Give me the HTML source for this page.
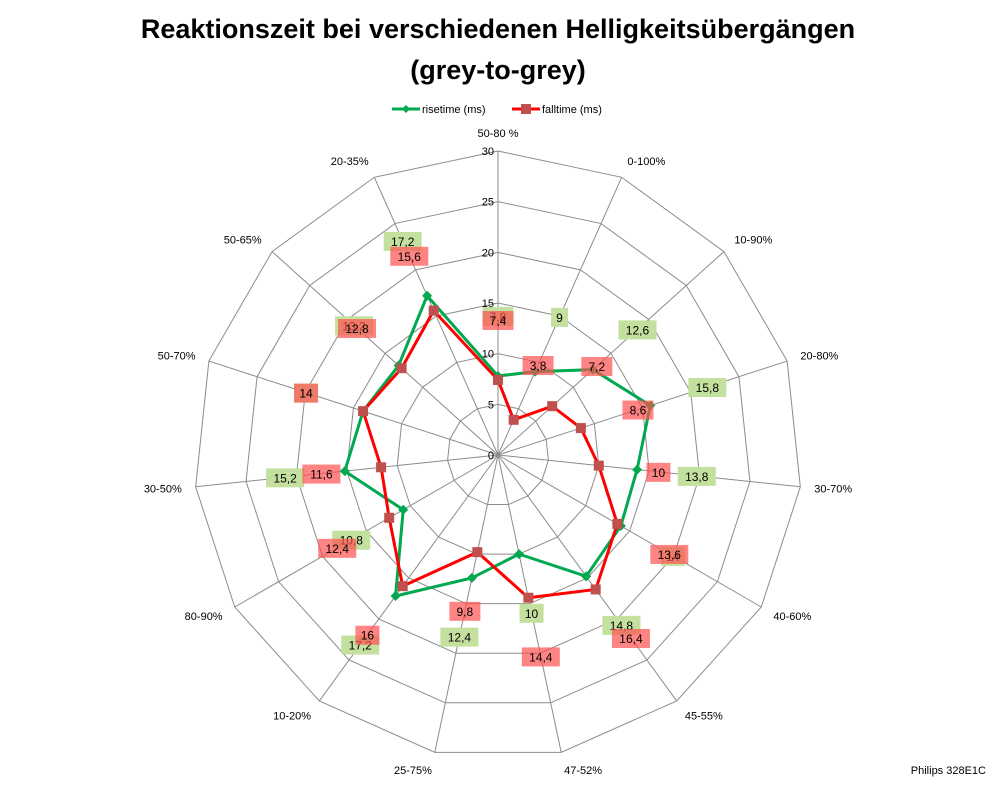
<!DOCTYPE html>
<html><head><meta charset="utf-8"><style>
body{margin:0;background:#fff;}
svg{display:block;font-family:"Liberation Sans",Calibri,sans-serif;}
</style></head><body>
<svg id="chart" width="998" height="786" viewBox="0 0 998 786" xmlns="http://www.w3.org/2000/svg">
<text x="498" y="38" text-anchor="middle" font-size="27" font-weight="bold">Reaktionszeit bei verschiedenen Helligkeitsübergängen</text>
<text x="498" y="79" text-anchor="middle" font-size="27" font-weight="bold">(grey-to-grey)</text>
<g>
<g>
<line x1="392" y1="109" x2="420" y2="109" stroke="#00a84f" stroke-width="3"/>
<path d="M406 105 L410 109 L406 113 L402 109Z" fill="#00a84f"/>
<text x="422" y="113" font-size="11">risetime (ms)</text></g>
<g>
<line x1="512" y1="109" x2="540" y2="109" stroke="#ff0000" stroke-width="3"/>
<rect x="521" y="104" width="10" height="10" fill="#c0504d"/>
<text x="542" y="113" font-size="11">falltime (ms)</text></g>
</g>
<g id="grid"></g>
<g id="series"></g>
<g id="labels"></g>
<text x="986" y="774" text-anchor="end" font-size="11">Philips 328E1C</text>
</svg>
<script>
const categories=["50-80 %","0-100%","10-90%","20-80%","30-70%","40-60%","45-55%","47-52%","25-75%","10-20%","80-90%","30-50%","50-70%","50-65%","20-35%"];
const risetime=[7.8,9,12.6,15.8,13.8,14,14.8,10,12.4,17.2,10.8,15.2,14,13.2,17.2];
const falltime=[7.4,3.8,7.2,8.6,10,13.6,16.4,14.4,9.8,16,12.4,11.6,14,12.8,15.6];
const ticks=[0,5,10,15,20,25,30];
const NS="http://www.w3.org/2000/svg";
const cx=498,cy=455,R=304,MAX=30;
function rad(v){return v/MAX*R;}
function ang(i){return i*2*Math.PI/categories.length;}
function pt(i,v){const a=ang(i),r=rad(v);return [cx+r*Math.sin(a),cy-r*Math.cos(a)];}
function mk(tag,attrs,parent){const e=document.createElementNS(NS,tag);for(const k in attrs)e.setAttribute(k,attrs[k]);parent.appendChild(e);return e;}
const grid=document.getElementById('grid');
ticks.forEach(t=>{if(t===0)return;
 const p=mk('polygon',{points:categories.map((c,i)=>pt(i,t).join(',')).join(' '),fill:'none',stroke:'#8c8c8c','stroke-width':1},grid);
 
 
});
categories.forEach((c,i)=>{
 const [x,y]=pt(i,MAX);
 const l=mk('line',{x1:cx,y1:cy,x2:x,y2:y,stroke:'#8c8c8c','stroke-width':1},grid);
 
 
 const a=ang(i),s=Math.sin(a),co=Math.cos(a);
 const lx=cx+(R+14)*s,ly=cy-(R+18)*co+4;
 const anchor=Math.abs(s)<0.2?'middle':(s>0?'start':'end');
 const t=mk('text',{x:lx,y:ly,'text-anchor':anchor,'font-size':11},grid);
 t.textContent=c;
 
 
});
ticks.forEach(t=>{
 const [x,y]=pt(0,t);
 const e=mk('text',{x:x-4,y:y+4,'text-anchor':'end','font-size':11},grid);
 e.textContent=t;
 
 
});
const ser=document.getElementById('series');
function drawSeries(vals,color,mark,name){
 const pts=vals.map((v,i)=>pt(i,v));
 const pl=mk('polygon',{points:pts.map(p=>p.join(',')).join(' '),fill:'none',stroke:color,'stroke-width':3,'stroke-linejoin':'round'},ser);
 
 
 pts.forEach(([x,y])=>{
  let m;
  if(mark==='sq') m=mk('rect',{x:x-5,y:y-5,width:10,height:10,fill:'#c0504d'},ser);
  else m=mk('path',{d:`M${x} ${y-5}L${x+5} ${y}L${x} ${y+5}L${x-5} ${y}Z`,fill:'#00a84f'},ser);
  
  
 });
}
drawSeries(risetime,'#00a84f','dia','risetime');
drawSeries(falltime,'#ff0000','sq','falltime');
const lab=document.getElementById('labels');
function drawLabels(vals,fill,op,name){
 vals.forEach((v,i)=>{
  const a=ang(i),r=rad(v)+60;
  const x=cx+r*Math.sin(a),y=cy-r*Math.cos(a);
  const txt=String(v).replace('.',',');
  const w=txt.length*7+10;
  const b=mk('rect',{x:x-w/2,y:y-9,width:w,height:19,fill:fill,'fill-opacity':op},lab);
  
  
  const t=mk('text',{x:x,y:y+5,'text-anchor':'middle','font-size':12},lab);
  t.textContent=txt;
  
  
 });
}
drawLabels(risetime,'#c4e09e',1,'risetime');
drawLabels(falltime,'#ff5050',0.7,'falltime');
</script>
</body></html>
